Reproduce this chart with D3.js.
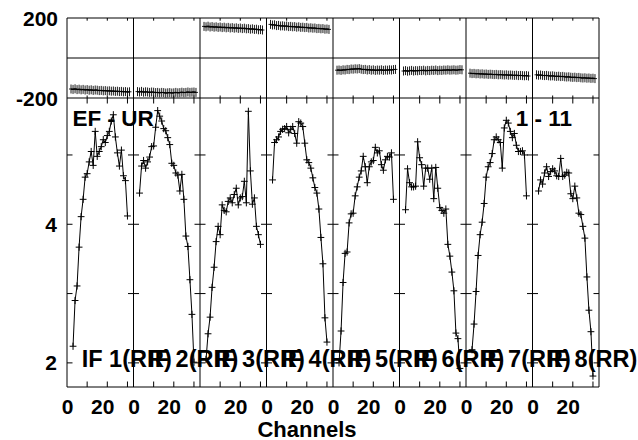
<!DOCTYPE html>
<html><head><meta charset="utf-8">
<script src="https://cdn.jsdelivr.net/npm/d3@7"></script>
<style>
body{margin:0;background:#fff}
text{font-family:"Liberation Sans",Arial,sans-serif;font-weight:bold;fill:#000}
</style>
</head><body>
<svg id="c" width="638" height="440"></svg>
<script>
// ---------- data ----------
const ifLabels = ["IF 1(RR)","IF 2(RR)","IF 3(RR)","IF 4(RR)","IF 5(RR)","IF 6(RR)","IF 7(RR)","IF 8(RR)"];
const ampChannels = [3,4,5,6,7,8,9,10,11,12,13,14,15,16,17,18,19,20,21,22,23,24,25,26,27,28,29,30];
const phaseChannels = [2,3,4,5,6,7,8,9,10,11,12,13,14,15,16,17,18,19,20,21,22,23,24,25,26,27,28,29,30,31];
const amp1 = [2.24,2.90,3.11,3.67,4.11,4.36,4.68,4.73,4.90,5.05,4.85,5.34,4.98,5.05,5.12,5.22,5.18,5.28,5.34,5.49,5.58,5.26,5.03,4.84,5.07,4.70,4.63,4.12];
const amp2 = [4.45,4.84,4.92,4.81,4.90,4.97,5.12,5.13,5.40,5.64,5.56,5.49,5.38,5.35,5.25,5.15,4.88,4.85,4.74,4.71,4.48,4.72,4.36,3.83,3.68,3.20,2.70,2.01];
const amp3 = [2.05,2.42,2.66,3.09,3.38,3.75,3.97,3.85,4.28,4.20,4.18,4.33,4.38,4.31,4.43,4.52,4.28,4.38,4.40,4.62,4.31,5.63,4.77,4.29,4.38,3.97,3.85,3.71];
const amp4 = [4.64,5.18,5.22,5.26,5.34,5.37,5.38,5.41,5.32,5.37,5.41,5.31,5.17,5.48,5.46,5.41,5.17,4.93,4.89,4.81,4.67,4.53,4.45,4.22,3.81,3.43,2.65,2.30];
const amp5 = [2.00,2.46,3.16,3.58,3.60,4.02,4.15,4.16,4.41,4.54,4.68,4.77,4.98,4.83,4.60,4.83,4.90,4.92,5.11,5.03,5.06,4.86,4.78,4.93,4.98,4.97,5.03,4.36];
const amp6 = [4.21,4.80,4.60,4.54,4.54,4.55,5.19,4.96,4.86,4.55,4.81,4.81,4.65,4.81,4.37,4.82,4.52,4.24,4.20,4.16,4.22,3.71,3.54,3.31,3.04,2.43,2.35,1.92];
const amp7 = [2.19,2.56,3.03,3.55,3.85,4.03,4.30,4.68,4.83,4.89,5.02,5.22,5.26,5.22,5.18,4.81,5.39,5.50,5.46,5.34,5.25,5.31,5.14,5.05,5.05,5.06,5.00,4.41];
const amp8 = [4.48,4.64,4.58,4.74,4.83,4.69,4.76,4.80,4.77,4.70,4.69,4.95,4.69,4.71,4.75,4.74,4.44,4.37,4.55,4.38,4.16,4.14,3.97,3.80,3.24,2.76,2.45,1.81];
const phase1 = [-155,-157,-154,-158,-156,-159,-157,-160,-158,-161,-159,-162,-160,-161,-163,-162,-164,-163,-165,-164,-166,-165,-167,-166,-168,-167,-169,-168,-170,-169];
const phase2 = [-168,-170,-167,-171,-169,-170,-172,-170,-171,-173,-172,-174,-172,-173,-175,-174,-173,-175,-174,-172,-174,-173,-171,-173,-172,-170,-172,-171,-170,-172];
const phase3 = [158,156,159,155,157,154,156,153,155,152,154,151,153,150,152,149,151,148,150,147,149,146,147,144,146,143,144,141,142,140];
const phase4 = [168,165,166,162,163,160,161,159,160,157,158,156,157,154,156,153,154,152,153,150,151,149,150,147,148,146,147,144,145,143];
const phase5 = [-61,-60,-62,-59,-60,-57,-58,-55,-56,-54,-55,-53,-56,-58,-57,-60,-58,-61,-59,-62,-60,-61,-59,-62,-60,-61,-59,-60,-58,-57];
const phase6 = [-65,-63,-66,-64,-62,-65,-63,-64,-62,-63,-61,-64,-62,-63,-61,-62,-60,-63,-61,-62,-60,-61,-59,-61,-60,-59,-61,-60,-58,-59];
const phase7 = [-76,-78,-77,-79,-78,-80,-79,-81,-80,-82,-81,-82,-83,-82,-84,-83,-84,-85,-84,-86,-85,-86,-87,-86,-88,-87,-88,-89,-88,-90];
const phase8 = [-84,-86,-85,-87,-88,-87,-89,-90,-89,-91,-92,-91,-93,-92,-94,-95,-94,-96,-97,-96,-98,-97,-99,-100,-99,-101,-100,-102,-101,-103];
const ampTicks = [2,3,4,5];
const ampTickLabels = [2,4];
const phaseTickLabels = [200,-200];
const chanTicks = [10,20,30];
const chanTickLabels = [0,20];
const titleLeft = "EF - UR";
const titleRight = "1 - 11";
const xTitle = "Channels";

const amps = [amp1,amp2,amp3,amp4,amp5,amp6,amp7,amp8];
const phases = [phase1,phase2,phase3,phase4,phase5,phase6,phase7,phase8];

// ---------- layout ----------
const L=67, R=599, T=18, MID=98, B=387;
const nPan = ifLabels.length;
const svg = d3.select("#c");
const panelX = d3.scaleLinear().domain([0,nPan]).range([L,R]);
const yAmp = d3.scaleLinear().domain([1.652,5.822]).range([B,MID]);
const yPh = d3.scaleLinear().domain([-200,200]).range([MID,T]);
const g = svg.append("g");
const line = (x1,y1,x2,y2,w=1)=>g.append("line").attr("x1",x1).attr("y1",y1).attr("x2",x2).attr("y2",y2).attr("stroke","#000").attr("stroke-width",w);

// frame
[T,MID,B,yPh(0)].forEach(y=>line(L,y,R,y));
for(let i=0;i<=nPan;i++) line(panelX(i),T,panelX(i),B);

for(let i=0;i<nPan;i++){
  const x = d3.scaleLinear().domain([0,33]).range([panelX(i),panelX(i+1)]);
  // channel ticks
  chanTicks.forEach(c=>{
    line(x(c),T,x(c),T+2.7);
    line(x(c),MID-2.5,x(c),MID+5.5);
    line(x(c),B,x(c),B-5.5);
  });
  // channel tick labels
  chanTickLabels.forEach(c=>{
    g.append("text").attr("x",x(c)+(c===0?0.5:-4.5)).attr("y",414).attr("text-anchor","middle")
     .attr("font-size",21).text(c);
  });
  // phase
  const pd = phaseChannels.map((c,k)=>[c,phases[i][k]]);
  g.append("path").datum(pd).attr("fill","none").attr("stroke","#000").attr("stroke-width",1)
   .attr("d",d3.line().x(d=>x(d[0])).y(d=>yPh(d[1])));
  pd.forEach(d=>{
    const px=x(d[0]), py=yPh(d[1]);
    line(px,py-4.5,px,py+4.5,0.9);
    line(px-2,py,px+2,py,0.9);
  });
  // amplitude
  const ad = ampChannels.map((c,k)=>[c,amps[i][k]]);
  g.append("path").datum(ad).attr("fill","none").attr("stroke","#000").attr("stroke-width",1)
   .attr("d",d3.line().x(d=>x(d[0])).y(d=>yAmp(d[1])));
  ad.forEach(d=>{
    const px=x(d[0]), py=yAmp(d[1]);
    line(px,py-3.6,px,py+3.6);
    line(px-3.4,py,px+3.4,py);
  });
}
// amplitude ticks at boundaries
for(let i=0;i<=nPan;i++){
  const bx=panelX(i);
  ampTicks.forEach(v=>{
    const y=yAmp(v);
    line(i===0?bx:bx-5.5, y, i===nPan?bx:bx+5.5, y);
  });
}
// y labels
ampTickLabels.forEach(v=>{
  g.append("text").attr("x",57).attr("y",yAmp(v)).attr("dy","0.36em").attr("text-anchor","end").attr("font-size",21).text(v);
});
phaseTickLabels.forEach(v=>{
  g.append("text").attr("x",58).attr("y",yPh(v)).attr("dy","0.36em").attr("text-anchor","end").attr("font-size",21).text(v);
});
// IF labels
for(let i=0;i<nPan;i++){
  g.append("text").attr("x",panelX(i)+14.7).attr("y",366.5).attr("font-size",23.5).text(ifLabels[i]);
}
// titles
g.append("text").attr("x",72.5).attr("y",125.5).attr("font-size",22.5).text(titleLeft);
g.append("text").attr("x",572).attr("y",125.5).attr("text-anchor","end").attr("font-size",22.5).text(titleRight);
g.append("text").attr("x",307).attr("y",436.5).attr("text-anchor","middle").attr("font-size",22).text(xTitle);
</script>
</body></html>
